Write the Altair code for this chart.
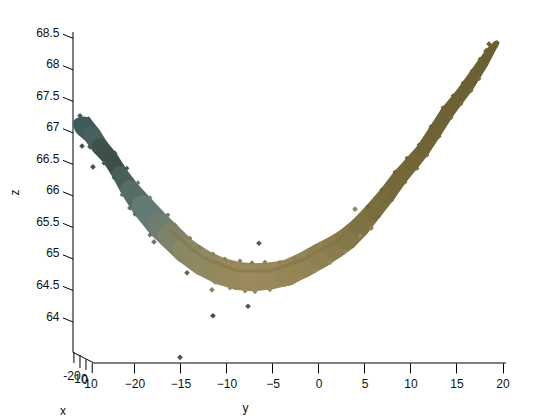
import altair as alt
import pandas as pd

FONT = "Liberation Sans"

# band stations along the ridge
band_y = [-26.0, -25.49, -24.62, -23.74, -22.66, -21.58, -20.49, -19.08, -17.23, -16.14, -14.51, -12.55,
          -10.71, -8.75, -7.12, -5.27, -3.42, -1.68, 0.16, 1.79, 3.10, 4.51, 5.92, 7.45, 8.86, 10.16,
          11.36, 12.66, 13.97, 15.05, 16.14, 17.01, 17.88, 18.64, 19.29]
band_z = [67.14, 67.10, 66.97, 66.78, 66.60, 66.35, 66.10, 65.83, 65.52, 65.37, 65.14, 64.94,
          64.81, 64.73, 64.71, 64.73, 64.78, 64.90, 65.05, 65.19, 65.32, 65.51, 65.75, 66.02, 66.30, 66.52,
          66.73, 67.02, 67.32, 67.52, 67.73, 67.92, 68.11, 68.29, 68.41]
band_w = [13, 20, 18, 17, 16, 16, 19, 23, 25, 25, 25, 26, 27, 28, 28, 27, 26, 25, 25, 23, 22, 20, 18, 17,
          16, 15, 14, 14, 14, 13, 13, 12, 11, 9, 6]
band_c = ["#3f5b5b", "#40595a", "#46605f", "#3f5049", "#3e4f48", "#4a5f58", "#566c66", "#637a75", "#6f7d70",
          "#7d8268", "#8a8763", "#8f8a64", "#94885f", "#98895c", "#9a8a5c", "#98885a", "#958657", "#928454",
          "#8e8150", "#8a7c4c", "#857848", "#7f7343", "#7a6e3f", "#766a3c", "#736839", "#716637", "#6f6436",
          "#6e6335", "#6d6234", "#6c6133", "#6b6033", "#6b6033", "#6a5f32", "#6a5f32", "#6a5f32"]

# darker seam inside the band
seam_y = [-16.14, -12.55, -8.75, -5.27, -1.68, 1.79, 4.51, 7.45]
seam_z = [65.45, 65.02, 64.81, 64.81, 64.99, 65.27, 65.59, 66.07]

# jagged edge points
edge_y = [-15.60, -13.97, -12.88, -11.47, -10.16, -8.53, -7.23, -5.82, -4.18, -2.55, -0.92, 0.71, 2.34,
          -12.88, -11.25, -9.62, -7.99, -6.90, -5.27, -3.64, -2.01, -0.38, 1.25, 2.88, 4.51,
          5.38, 6.9, 8.32, 9.62, 10.92, 12.23, 13.53, 14.62, 15.71, 16.68, 17.55,
          6.47, 7.99, 9.40, 10.71, 11.79, 13.10, 14.40, 15.49, 16.58, 17.45,
          -23.21, -22.12, -20.82, -19.62, -18.32, -16.36,
          -24.29, -23.32, -22.23, -21.35, -19.95, -18.32, -16.68, -15.05]
edge_z = [65.54, 65.33, 65.17, 65.08, 65.00, 64.97, 64.94, 64.95, 64.95, 65.02, 65.14, 65.25, 65.41,
          64.79, 64.63, 64.54, 64.49, 64.48, 64.51, 64.59, 64.70, 64.81, 64.94, 65.11, 65.37,
          65.83, 66.10, 66.38, 66.60, 66.81, 67.10, 67.40, 67.59, 67.79, 67.98, 68.17,
          65.67, 65.94, 66.22, 66.44, 66.65, 66.94, 67.24, 67.46, 67.67, 67.86,
          66.84, 66.68, 66.44, 66.21, 65.97, 65.70,
          66.73, 66.52, 66.29, 66.02, 65.71, 65.38, 65.22, 65.02]
edge_c = (["#8a7d50"] * 13 + ["#96895f"] * 12 + ["#6e6335"] * 11 + ["#756a3c"] * 10
          + ["#43564f"] * 3 + ["#6a7d72"] * 3 + ["#46584f"] * 3 + ["#5c7068"] * 3 + ["#80846a"] * 2)

# isolated points
out_y = [-6.47, -11.47, -7.66, -11.58, -14.29, -15.05, -24.51, -25.7, -24.84, -20.49, -17.88, 3.97, 5.71,
         18.53, 19.40, 18.2, -25.92, -25.0]
out_z = [65.25, 64.10, 64.25, 64.51, 64.78, 63.44, 66.46, 66.79, 66.78, 65.81, 65.27, 65.79, 65.49,
         68.41, 68.43, 68.30, 67.27, 67.22]
out_c = ["#5a5540", "#4f4a38", "#5f4e38", "#8a8260", "#6a6448", "#5a5040", "#3f4f4c", "#45575a", "#45575a",
         "#5f7268", "#6d7a68", "#8a8560", "#8a8055", "#6c6135", "#6c6135", "#6c6135", "#3f5b5b", "#3f5b5b"]

z_ticks = [64, 64.5, 65, 65.5, 66, 66.5, 67, 67.5, 68, 68.5]
y_ticks = [-20, -15, -10, -5, 0, 5, 10, 15, 20]

x_tick_y = [-26.58, -25.92, -25.27, -24.59]
x_tick_z = [63.52, 63.48, 63.41, 63.35]
x_tick_z2 = [63.35, 63.27, 63.24, 63.19]
x_lab = ["-20", "-10", "0", "10"]
x_lab_y = [-26.79, -26.03, -25.38, -24.73]
x_lab_z = [63.14, 63.10, 63.08, 63.02]

Y = alt.Scale(domain=[-26.68, 20.38])
Z = alt.Scale(domain=[63.35, 68.6])

seg = []
for i in range(len(band_y) - 1):
    seg.append(dict(s=i, o=0, y=band_y[i], z=band_z[i], w=band_w[i], c=band_c[i]))
    seg.append(dict(s=i, o=1, y=band_y[i + 1], z=band_z[i + 1], w=band_w[i + 1], c=band_c[i]))
seg = pd.DataFrame(seg)

xq = alt.X("y:Q", scale=Y, axis=alt.Axis(values=y_ticks, domain=False, grid=False, tickSize=10, tickColor="#000",
                                         labelFont=FONT, labelFontSize=12, labelColor="#111", labelPadding=5,
                                         labelFlush=False, title="y", titleFont=FONT, titleFontSize=12,
                                         titleFontWeight="normal", titleColor="#111", titleX=172, titleY=39))
zq = alt.Y("z:Q", scale=Z, axis=alt.Axis(values=z_ticks, format="~g", domain=False, grid=False, ticks=False,
                                         labelFont=FONT, labelFontSize=12, labelColor="#111", labelPadding=14,
                                         labelOffset=-6, labelFlush=False, title="z", titleFont=FONT,
                                         titleFontSize=12, titleFontWeight="normal", titleColor="#111",
                                         titleX=-52, titleY=160))

frame = alt.Chart(pd.DataFrame(dict(y=[-24.40], z=[63.35], y2=[20.38], z2=[63.35]))).mark_rule(color="#000", strokeWidth=1).encode(
    x=xq, y=zq, x2="y2:Q", y2="z2:Q")
z_axis = alt.Chart(pd.DataFrame(dict(y=[-26.68], z=[63.52], z2=[68.6]))).mark_rule(color="#000", strokeWidth=1).encode(
    x=xq, y=zq, y2="z2:Q")
diag = alt.Chart(pd.DataFrame(dict(y=[-26.68], z=[63.52], y2=[-24.40], z2=[63.35]))).mark_rule(color="#000", strokeWidth=1).encode(
    x=xq, y=zq, x2="y2:Q", y2="z2:Q")
zt = alt.Chart(pd.DataFrame(dict(z=z_ticks, y=[-26.68] * 10, y2=[-27.77] * 10, z2=[v + 0.065 for v in z_ticks]))).mark_rule(
    color="#000", strokeWidth=1).encode(x=xq, y=zq, x2="y2:Q", y2="z2:Q")
xt = alt.Chart(pd.DataFrame(dict(y=x_tick_y, z=x_tick_z, z2=x_tick_z2))).mark_rule(color="#000", strokeWidth=1).encode(
    x=xq, y=zq, y2="z2:Q")
xl = alt.Chart(pd.DataFrame(dict(y=x_lab_y, z=x_lab_z, t=x_lab))).mark_text(font=FONT, fontSize=12, color="#111").encode(
    x=xq, y=zq, text="t:N")
xname = alt.Chart(pd.DataFrame(dict(y=[-27.77], z=[62.59], t=["x"]))).mark_text(font=FONT, fontSize=12, color="#111").encode(
    x=xq, y=zq, text="t:N")

band = alt.Chart(seg).mark_trail(opacity=1).encode(
    x=xq, y=zq, detail="s:N", order="o:Q",
    size=alt.Size("w:Q", scale=None, legend=None),
    color=alt.Color("c:N", scale=None, legend=None))
seam = alt.Chart(pd.DataFrame(dict(y=seam_y, z=seam_z))).mark_line(color="#7f7240", strokeWidth=3, opacity=0.5).encode(
    x=xq, y=zq)
edges = alt.Chart(pd.DataFrame(dict(y=edge_y, z=edge_z, c=edge_c))).mark_point(
    shape="diamond", filled=True, size=24, opacity=1).encode(
    x=xq, y=zq, color=alt.Color("c:N", scale=None, legend=None))
outs = alt.Chart(pd.DataFrame(dict(y=out_y, z=out_z, c=out_c))).mark_point(
    shape="diamond", filled=True, size=32, opacity=1).encode(
    x=xq, y=zq, color=alt.Color("c:N", scale=None, legend=None))

chart = alt.layer(frame, z_axis, diag, zt, xt, band, seam, edges, outs, xl, xname).properties(
    width=433, height=331,
    autosize=alt.AutoSizeParams(type="none"),
    padding={"left": 65, "top": 24, "right": 46, "bottom": 56},
    background="#ffffff",
).configure_view(stroke=None)

chart.save("out.html", embed_options={"renderer": "svg", "actions": False})
